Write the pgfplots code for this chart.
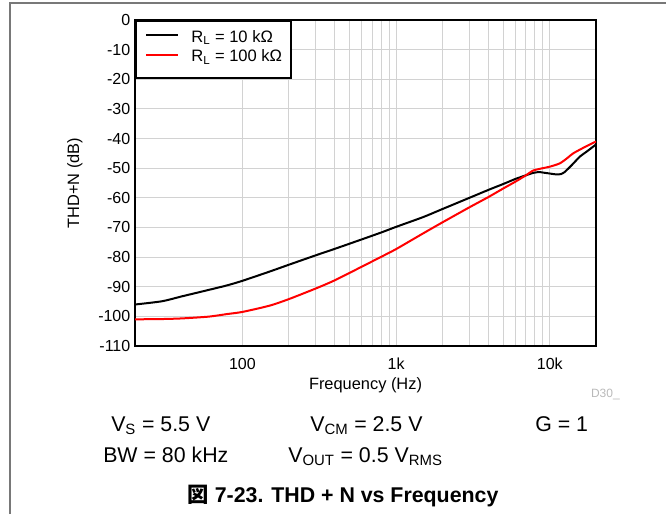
\documentclass[border=0pt]{standalone}
\usepackage{fontspec}
\setmainfont{Liberation Sans}
\newfontfamily\cjk{Noto Sans CJK JP}
\usepackage{pgfplots}
\pgfplotsset{compat=1.18}
\definecolor{gridgray}{RGB}{210,210,210}
\definecolor{framegray}{RGB}{120,120,120}
\begin{document}
\begin{tikzpicture}
\useasboundingbox (0,0) rectangle (499.5pt,-385.5pt);
% page frame fragments
\draw[framegray, line width=1pt] (7.5pt,-385.5pt) -- (7.5pt,-1.5pt);
\draw[framegray, line width=1pt] (7.5pt,-2.25pt) -- (499.5pt,-2.25pt);
\begin{axis}[
  at={(101.25pt,-259.5pt)}, anchor=south west,
  scale only axis, width=345.75pt, height=244.5pt,
  xmode=log, xmin=20, xmax=20000, ymin=-110, ymax=0,
  xtick={100,1000,10000}, xticklabels={100,1k,10k},
  ytick={-110,-100,-90,-80,-70,-60,-50,-40,-30,-20,-10,0},
  yticklabels={-110,-100,-90,-80,-70,-60,-50,-40,-30,-20,-10,0},
  grid=both,
  major grid style={gridgray, line width=0.75pt},
  minor grid style={gridgray, line width=0.75pt},
  major tick length=0pt, minor tick length=0pt,
  axis line style={line width=1.6pt},
  tick label style={font=\fontsize{12}{14}\selectfont},
  xticklabel style={yshift=-5.5pt},
  xlabel={Frequency (Hz)}, ylabel={THD+N (dB)},
  label style={font=\fontsize{12.3}{14}\selectfont},
  xlabel style={at={(axis description cs:0.5,-0.12)}, anchor=center},
  ylabel style={at={(axis description cs:-0.1302,0.5)}, anchor=center},
  legend style={at={(0,1)}, anchor=north west, draw=black, line width=1.6pt,
    fill=white, font=\fontsize{12.4}{14}\selectfont,
    inner xsep=7pt, inner ysep=7pt, column sep=9pt, row sep=0pt,
    nodes={inner sep=0pt, text height=9pt, text depth=5.5pt}},
  legend cell align=left,
  legend image code/.code={\draw[#1, line width=1.5pt] (0pt,3.5pt) -- (24pt,3.5pt);},
]
\addplot[black, line width=1.5pt, smooth, tension=0.4] coordinates {
(20,-96.0) (30,-94.9) (40,-93.3) (60,-91.1) (80,-89.5) (100,-88.0)
(150,-84.9) (200,-82.6) (300,-79.4) (400,-77.2) (600,-74.0) (800,-71.7)
(1000,-69.8) (1500,-66.5) (2000,-63.8) (3000,-60.0) (4000,-57.3)
(5000,-55.3) (6000,-53.6) (7000,-52.4) (7800,-51.6) (8500,-51.3)
(9100,-51.5) (10000,-51.8) (11000,-52.1) (11800,-52.0) (12500,-51.3)
(14000,-48.8) (15700,-46.1) (17500,-44.3) (20000,-42.0)
};
\addlegendentry{R\textsubscript{L} = 10 kΩ}
\addplot[red, line width=1.5pt, smooth, tension=0.4] coordinates {
(20,-101.0) (30,-100.9) (40,-100.7) (60,-100.1) (80,-99.2) (100,-98.5)
(150,-96.4) (200,-94.2) (300,-90.6) (400,-87.8) (600,-83.2) (800,-79.9)
(1000,-77.3) (1500,-72.0) (2000,-68.3) (3000,-63.2) (4000,-59.7)
(5000,-56.8) (6000,-54.5) (7000,-52.4) (7800,-50.8) (9000,-50.0)
(10000,-49.5) (11600,-48.4) (13000,-46.6) (14200,-45.0) (17000,-42.8)
(20000,-41.0)
};
\addlegendentry{R\textsubscript{L} = 100 kΩ}
\end{axis}
\node[anchor=base east, font=\fontsize{9}{10}\selectfont, text=gray!55, inner sep=0pt] at (465pt,-297.75pt) {D30\_};
\begin{scope}[every node/.style={anchor=base west, inner sep=0pt, font=\fontsize{16}{19}\selectfont}]
\node at (83.25pt,-323.25pt) {V\textsubscript{S} = 5.5 V};
\node at (232.5pt,-323.25pt) {V\textsubscript{CM} = 2.5 V};
\node at (401.25pt,-323.25pt) {G = 1};
\node at (77.25pt,-346.5pt) {BW = 80 kHz};
\node at (216pt,-346.5pt) {V\textsubscript{OUT} = 0.5 V\textsubscript{RMS}};
\end{scope}
\node[anchor=base, inner sep=0pt, font=\fontsize{16}{19}\selectfont\bfseries] at (257.25pt,-376.5pt) {{\cjk\bfseries 図} 7-23. THD + N vs Frequency};
\end{tikzpicture}
\end{document}
